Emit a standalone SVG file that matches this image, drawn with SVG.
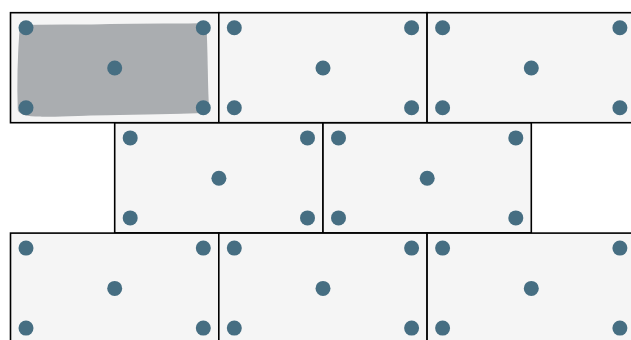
<svg xmlns="http://www.w3.org/2000/svg" width="631" height="340" viewBox="0 0 631 340">
<style>
.tile{fill:#f5f5f5;stroke:#000;stroke-width:1.6}
.dot{fill:#466e82}
.blob{fill:#aaadb0;stroke:#aaadb0;stroke-width:1.5;stroke-linejoin:round}
</style>
<defs>
<g id="dots">
<circle class="dot" cx="15.5" cy="15" r="7.5"/>
<circle class="dot" cx="192.8" cy="15" r="7.5"/>
<circle class="dot" cx="15.5" cy="95" r="7.5"/>
<circle class="dot" cx="192.8" cy="95" r="7.5"/>
<circle class="dot" cx="104.2" cy="55.3" r="7.5"/>
</g>
</defs>
<rect width="631" height="340" fill="#fff"/>
<g id="tile-r1c1" transform="translate(10.5,12.7)">
<rect class="tile" width="208.3" height="110"/>
<path class="blob" d="M10,13 C40,12 70,13 100,12 C140,11 170,12 195,11 C197,40 196,70 198,99 C170,101 120,101 80,102 C55,103 38,104 30,103 C15,103 9,101 8,97 C7,70 8,40 10,13 Z"/>
<use href="#dots"/>
</g>
<g id="tile-r1c2" transform="translate(218.8,12.7)">
<rect class="tile" width="208.3" height="110"/>
<use href="#dots"/>
</g>
<g id="tile-r1c3" transform="translate(427.1,12.7)">
<rect class="tile" width="208.3" height="110"/>
<use href="#dots"/>
</g>
<g id="tile-r2c1" transform="translate(114.7,122.9)">
<rect class="tile" width="208.3" height="110"/>
<use href="#dots"/>
</g>
<g id="tile-r2c2" transform="translate(323,122.9)">
<rect class="tile" width="208.3" height="110"/>
<use href="#dots"/>
</g>
<g id="tile-r3c1" transform="translate(10.5,233.1)">
<rect class="tile" width="208.3" height="110"/>
<use href="#dots"/>
</g>
<g id="tile-r3c2" transform="translate(218.8,233.1)">
<rect class="tile" width="208.3" height="110"/>
<use href="#dots"/>
</g>
<g id="tile-r3c3" transform="translate(427.1,233.1)">
<rect class="tile" width="208.3" height="110"/>
<use href="#dots"/>
</g>
<g id="connectors"/>
</svg>
